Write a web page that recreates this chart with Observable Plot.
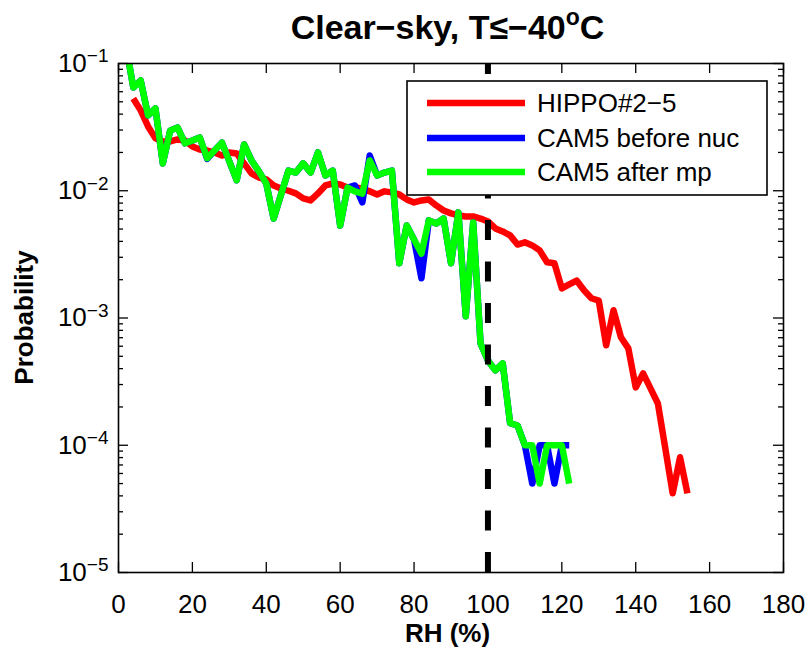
<!DOCTYPE html>
<html><head><meta charset="utf-8">
<script src="https://cdn.jsdelivr.net/npm/d3@7"></script>
<script src="https://cdn.jsdelivr.net/npm/@observablehq/plot@0.6"></script>
<style>
body{margin:0;background:#fff;}
#chart svg{display:block;font-family:"Liberation Sans",Arial,Helvetica,sans-serif;}
</style></head><body><div id="chart"></div>
<script>
// ---- data ----
const hippoRH = [4,6,8,10,12,14,16,18,20,22,24,26,28,30,32,34,36,38,40,42,44,46,48,50,52,54,56,58,60,62,64,66,68,70,72,74,76,78,80,82,84,86,88,90,92,94,96,98,100,102,104,106,108,110,112,114,116,118,120,122,124,126,128,130,132,134,136,138,140,142,144,146,148,150,152,154];
const hippoProb = [0.0531,0.0428,0.0320,0.0258,0.0244,0.0244,0.0253,0.0248,0.0223,0.0211,0.0207,0.0200,0.0189,0.0200,0.0196,0.0164,0.0137,0.0127,0.0123,0.0110,0.0104,0.0100,0.00953,0.00871,0.00839,0.00953,0.0110,0.0114,0.0112,0.0106,0.0106,0.0104,0.00989,0.00935,0.00989,0.00971,0.00935,0.00855,0.00809,0.00839,0.00855,0.00767,0.00700,0.00664,0.00640,0.00628,0.00628,0.00605,0.00574,0.00506,0.00479,0.00446,0.00378,0.00393,0.00372,0.00340,0.00274,0.00269,0.00171,0.00184,0.00197,0.00165,0.00143,0.00137,0.00061,0.00115,0.000705,0.000577,0.000285,0.000367,0.000280,0.000213,0.0000946,0.0000419,0.0000804,0.0000419];
const camRH = [2,4,6,8,10,12,14,16,18,20,22,24,26,28,30,32,34,36,38,40,42,44,46,48,50,52,54,56,58,60,62,64,66,68,70,72,74,76,78,80,82,84,86,88,90,92,94,96,98,100,102,104,106,108,110,112,114,116,118,120,122];
const camBeforeNuc = [0.14,0.0647,0.0735,0.0391,0.0444,0.0164,0.0298,0.0314,0.0236,0.0248,0.0262,0.0178,0.0207,0.0239,0.0170,0.0121,0.0231,0.0173,0.0142,0.0114,0.00605,0.00935,0.0144,0.0139,0.0164,0.0139,0.0200,0.0132,0.0144,0.00533,0.0106,0.0110,0.0081,0.0189,0.0132,0.0139,0.0144,0.00269,0.00533,0.00414,0.00205,0.00585,0.00553,0.00605,0.00269,0.00676,0.00103,0.00564,0.000631,0.000464,0.000388,0.000440,0.000149,0.000143,0.0001,0.00005,0.0001,0.0001,0.00005,0.0001,0.0001];
const camAfterMp = [0.14,0.0647,0.0735,0.0391,0.0444,0.0164,0.0298,0.0314,0.0236,0.0248,0.0262,0.0180,0.0207,0.0239,0.0170,0.0121,0.0231,0.0173,0.0142,0.0114,0.00605,0.00935,0.0144,0.0139,0.0164,0.0139,0.0200,0.0132,0.0144,0.00533,0.0106,0.00989,0.0095,0.0173,0.0132,0.0139,0.0144,0.00269,0.00533,0.00414,0.00321,0.00585,0.00553,0.00605,0.00269,0.00676,0.00103,0.00564,0.000631,0.000464,0.000388,0.000440,0.000149,0.000143,0.0001,0.0001,0.00005,0.0001,0.0001,0.0001,0.00005];
const seriesNames = ["HIPPO#2\u22125", "CAM5 before nuc", "CAM5 after mp"];
const seriesColors = ["#ff0000", "#0000ff", "#00ff00"];
const xTicks = [0,20,40,60,80,100,120,140,160,180];
const yTicks = [1e-5,1e-4,1e-3,1e-2,1e-1];
const yTickExp = ["\u22125","\u22124","\u22123","\u22122","\u22121"];
const yMinor = [2e-5,3e-5,4e-5,5e-5,6e-5,7e-5,8e-5,9e-5,2e-4,3e-4,4e-4,5e-4,6e-4,7e-4,8e-4,9e-4,2e-3,3e-3,4e-3,5e-3,6e-3,7e-3,8e-3,9e-3,2e-2,3e-2,4e-2,5e-2,6e-2,7e-2,8e-2,9e-2];
const refRH = [100];
const xLabel = "RH (%)";
const yLabel = "Probability";

// ---- layout ----
const W = 808, H = 650, mL = 118, mR = 25, mT = 63, mB = 78;
const fw = W - mL - mR, fh = H - mT - mB;

const hippo = hippoRH.map((x, i) => ({x, p: hippoProb[i]}));
const before = camRH.map((x, i) => ({x, p: camBeforeNuc[i]}));
const after = camRH.map((x, i) => ({x, p: camAfterMp[i]}));

const lw = 6.5;
const svg = Plot.plot({
  width: W, height: H,
  marginLeft: mL, marginRight: mR, marginTop: mT, marginBottom: mB,
  style: {fontFamily: '"Liberation Sans", Arial, Helvetica, sans-serif', fontSize: "26px", color: "#000", background: "#fff", overflow: "visible"},
  x: {domain: [0, 180], ticks: xTicks, tickSize: 0, tickPadding: 22, label: null, tickFormat: d => String(d)},
  y: {type: "log", domain: [1e-5, 1e-1], ticks: yTicks, tickSize: 0, tickPadding: 10, label: null,
      tickFormat: d => "10^" + yTickExp[yTicks.findIndex(t => Math.abs(t - d) / t < 1e-6)]},
  marks: [
    Plot.line(hippo, {x: "x", y: "p", stroke: seriesColors[0], strokeWidth: lw, strokeLinejoin: "round", strokeLinecap: "butt", clip: true}),
    Plot.line(before, {x: "x", y: "p", stroke: seriesColors[1], strokeWidth: lw, strokeLinejoin: "round", strokeLinecap: "butt", clip: true}),
    Plot.line(after, {x: "x", y: "p", stroke: seriesColors[2], strokeWidth: lw, strokeLinejoin: "round", strokeLinecap: "butt", clip: true}),
    Plot.ruleX(refRH, {x: d => d, stroke: "#000", strokeWidth: 6, strokeDasharray: "20,21.5", strokeDashoffset: 9}),
    // inward ticks
    Plot.tickY(yTicks, {y: d => d, insetRight: fw - 10, stroke: "#000", strokeWidth: 1.3}),
    Plot.tickY(yTicks, {y: d => d, insetLeft: fw - 10, stroke: "#000", strokeWidth: 1.3}),
    Plot.tickY(yMinor, {y: d => d, insetRight: fw - 5, stroke: "#000", strokeWidth: 1.3}),
    Plot.tickY(yMinor, {y: d => d, insetLeft: fw - 5, stroke: "#000", strokeWidth: 1.3}),
    Plot.tickX(xTicks, {x: d => d, insetTop: fh - 10, stroke: "#000", strokeWidth: 1.3}),
    Plot.tickX(xTicks, {x: d => d, insetBottom: fh - 10, stroke: "#000", strokeWidth: 1.3}),
    Plot.frame({stroke: "#000", strokeWidth: 1.6})
  ]
});

const s = d3.select(svg);
// superscript tick labels
s.selectAll("text").each(function() {
  const t = this.textContent;
  if (t.startsWith("10^")) {
    const sel = d3.select(this);
    sel.text(null);
    sel.append("tspan").text("10");
    sel.append("tspan").attr("dy", "-0.5em").attr("font-size", "19px").text(t.slice(3));
  }
});
// title
const title = s.append("text").attr("x", mL + fw / 2 - 3).attr("y", 39).attr("text-anchor", "middle")
  .attr("font-weight", "bold").attr("font-size", "34px").attr("fill", "#000");
title.append("tspan").text("Clear\u2212sky, T\u2264\u221240");
title.append("tspan").attr("dy", "-14").attr("font-size", "23px").text("o");
title.append("tspan").attr("dy", "14").text("C");
// axis labels
s.append("text").attr("x", mL + fw / 2 - 3).attr("y", 642).attr("text-anchor", "middle")
  .attr("font-weight", "bold").attr("font-size", "26px").text(xLabel);
s.append("text").attr("transform", `translate(33,${mT + fh / 2}) rotate(-90)`).attr("text-anchor", "middle")
  .attr("font-weight", "bold").attr("font-size", "26px").text(yLabel);
// legend
const lg = s.append("g").attr("text-anchor", "start");
lg.append("rect").attr("x", 407).attr("y", 81).attr("width", 360).attr("height", 114)
  .attr("fill", "#fff").attr("stroke", "#000").attr("stroke-width", 1.6);
const rowY = [103, 138, 172];
seriesNames.forEach((name, i) => {
  lg.append("line").attr("x1", 427).attr("x2", 525).attr("y1", rowY[i]).attr("y2", rowY[i])
    .attr("stroke", seriesColors[i]).attr("stroke-width", lw);
  lg.append("text").attr("x", 537).attr("y", rowY[i] + 9).attr("text-anchor", "start")
    .attr("font-size", "26px").attr("fill", "#000").text(name);
});
document.getElementById("chart").appendChild(svg);
</script></body></html>
